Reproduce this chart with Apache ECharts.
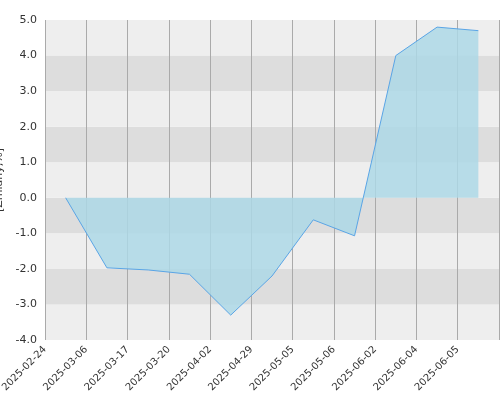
<!DOCTYPE html>
<html>
<head>
<meta charset="utf-8">
<script src="https://cdn.jsdelivr.net/npm/echarts@6/dist/echarts.min.js"></script>
<style>html,body{margin:0;padding:0;background:#fff}#chart{width:500px;height:400px}</style>
</head>
<body>
<div id="chart"></div>
<script>
const dateLabels = ['2025-02-24', '2025-03-06', '2025-03-17', '2025-03-20', '2025-04-02', '2025-04-29', '2025-05-05', '2025-05-06', '2025-06-02', '2025-06-04', '2025-06-05']
const changeValues = [0, -1.97, -2.03, -2.15, -3.3, -2.2, -0.62, -1.07, 4.0, 4.8, 4.7]

// points sit in the middle of each slot, labels on slot boundaries
const points = changeValues.map((v, i) => [i + 0.5, v])

const chart = echarts.init(document.getElementById('chart'))
chart.setOption({
  animation: false,
  grid: { left: 45, right: 1, top: 20, bottom: 60, containLabel: false, outerBoundsMode: 'none' },
  xAxis: {
    type: 'value',
    min: 0,
    max: 11,
    interval: 1,
    axisLine: { show: false },
    axisTick: { show: false },
    splitLine: { show: true, lineStyle: { color: '#aaaaaa', width: 1 } },
    axisLabel: {
      rotate: 45,
      fontSize: 10,
      color: '#333',
      fontFamily: 'DejaVu Sans',
      showMaxLabel: false,
      formatter: v => dateLabels[v] || ''
    }
  },
  yAxis: {
    type: 'value',
    min: -4,
    max: 5,
    interval: 1,
    name: '[Zmiany,%]',
    nameLocation: 'middle',
    nameGap: 30,
    nameTextStyle: { fontSize: 11, color: '#333', fontFamily: 'DejaVu Sans' },
    axisLine: { show: false },
    axisTick: { show: false },
    splitLine: { show: false },
    splitArea: { show: true, areaStyle: { color: ['#eeeeee', '#dddddd'] } },
    axisLabel: { fontSize: 11, color: '#333', fontFamily: 'DejaVu Sans', formatter: v => v.toFixed(1) }
  },
  series: [{
    type: 'line',
    data: points,
    symbol: 'none',
    lineStyle: { color: '#5aa5e6', width: 1 },
    areaStyle: { color: '#add8e6', opacity: 0.85, origin: 0 }
  }]
})
</script>
</body>
</html>
